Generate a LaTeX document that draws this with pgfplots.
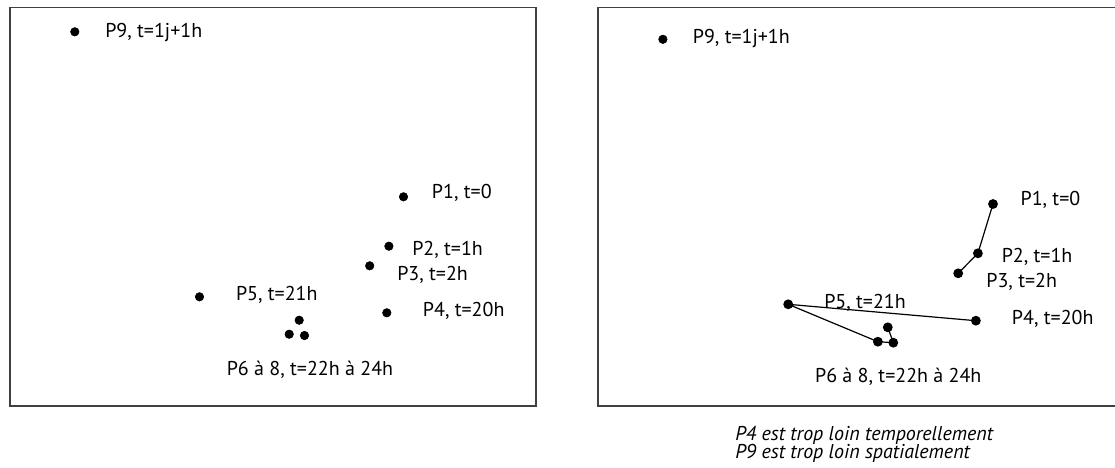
\documentclass[border=0pt]{standalone}
\usepackage{pgfplots}
\pgfplotsset{compat=1.18}
\usepackage{fontspec}
\setmainfont{PT Sans}
\tikzset{lbl/.style={font=\fontsize{15}{18}\selectfont, inner sep=0pt, anchor=base west}}
\pgfplotsset{panel/.style={
  scale only axis, y dir=reverse, ymin=7.5, ymax=406, height=298.875pt,
  xtick=\empty, ytick=\empty, clip=false, anchor=north west,
  axis line style={draw=black!75, line width=1.3pt}}}
\begin{document}
\begin{tikzpicture}
\useasboundingbox (0,0) rectangle (836.25pt,-351pt);
\clip (0,0) rectangle (836.25pt,-351pt);
% left panel
\begin{axis}[panel, at={(7.5pt,-5.625pt)}, xmin=10, xmax=536, width=394.5pt]
\addplot[only marks, mark=*, mark size=3.2pt, black] table {
x y
74.8 31.8
403.5 196.8
388.9 246.2
369.7 265.8
386.8 312.8
199.5 296.8
299.2 320.2
289.2 334.2
304.5 335.5
};
\node[lbl] at (axis cs:105,37.5) {P9, t=1j+1h};
\node[lbl] at (axis cs:431.7,198.3) {P1, t=0};
\node[lbl] at (axis cs:412,255) {P2, t=1h};
\node[lbl] at (axis cs:397,280) {P3, t=2h};
\node[lbl] at (axis cs:235.8,300.7) {P5, t=21h};
\node[lbl] at (axis cs:422.7,316.7) {P4, t=20h};
\node[lbl] at (axis cs:226.5,375) {P6 à 8, t=22h à 24h};
\end{axis}
% right panel
\begin{axis}[panel, at={(448.5pt,-5.625pt)}, xmin=598, xmax=1118, width=390pt]
\addplot[black, line width=0.9pt, mark=*, mark size=3.2pt] table {
x y
993 204
977.9 253.3
958.2 273.3
};
\addplot[black, line width=0.9pt, mark=*, mark size=3.2pt] table {
x y
975.9 320.7
788.2 304.3
877.9 341.7
893.3 342.7
887.8 327.3
};
\addplot[only marks, mark=*, mark size=3.2pt, black] table {
x y
662.9 39.3
};
\node[lbl] at (axis cs:692.6,43.3) {P9, t=1j+1h};
\node[lbl] at (axis cs:1020.3,205) {P1, t=0};
\node[lbl] at (axis cs:1001.5,262.3) {P2, t=1h};
\node[lbl] at (axis cs:986.1,287.3) {P3, t=2h};
\node[lbl] at (axis cs:824,308.3) {P5, t=21h};
\node[lbl] at (axis cs:1011.7,324) {P4, t=20h};
\node[lbl] at (axis cs:814.8,382.7) {P6 à 8, t=22h à 24h};
\node[lbl] at (axis cs:735,440) {\itshape P4 est trop loin temporellement};
\node[lbl] at (axis cs:735,458) {\itshape P9 est trop loin spatialement};
\end{axis}
\end{tikzpicture}
\end{document}
